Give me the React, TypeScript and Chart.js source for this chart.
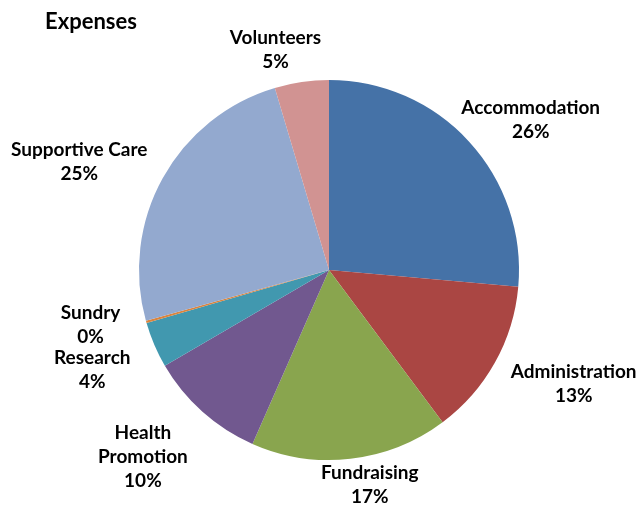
import React, { useEffect, useRef } from "react";
import { Chart, registerables } from "chart.js";

Chart.register(...registerables);

const chartTitle = "Expenses";
const categories = [
  "Accommodation",
  "Administration",
  "Fundraising",
  "Health Promotion",
  "Research",
  "Sundry",
  "Supportive Care",
  "Volunteers",
];
const values = [26.4, 13.4, 16.8, 10.0, 3.9, 0.2, 24.7, 4.6];
const colors = [
  "#4572A7",
  "#AA4643",
  "#89A54E",
  "#71588F",
  "#4198AF",
  "#DB843D",
  "#93A9CF",
  "#D19392",
];
const wrappedNames: Record<string, string[]> = {
  "Health Promotion": ["Health", "Promotion"],
};
// label fine-tuning (dx, dy) in px, applied after the automatic outside placement
const labelNudges: [number, number][] = [
  [-8, 11],
  [2, -3],
  [11, -23],
  [-13, 0],
  [-4, 6],
  [-3, -10],
  [-2, 8],
  [-16, 16],
];

const FONT = "Lato, 'Open Sans', sans-serif";
const LABEL_FONT = `bold 19px ${FONT}`;
const LINE_H = 24;

const outsideLabels = {
  id: "outsideLabels",
  afterDraw(chart: any) {
    const ctx = chart.ctx;
    const meta = chart.getDatasetMeta(0);
    const total = values.reduce((a, b) => a + b, 0);
    ctx.save();
    ctx.fillStyle = "#000";
    ctx.textBaseline = "middle";
    // title
    ctx.font = `bold 22px ${FONT}`;
    ctx.textAlign = "left";
    ctx.fillText(chartTitle, 45, 22);
    ctx.textAlign = "center";
    ctx.font = LABEL_FONT;
    meta.data.forEach((arc: any, i: number) => {
      const { x, y, startAngle, endAngle, outerRadius } = arc.getProps(
        ["x", "y", "startAngle", "endAngle", "outerRadius"],
        true
      );
      const mid = (startAngle + endAngle) / 2;
      const ux = Math.cos(mid);
      const uy = Math.sin(mid);
      const name = categories[i];
      const lines = [
        ...(wrappedNames[name] || [name]),
        `${Math.round((values[i] / total) * 100)}%`,
      ];
      const w = Math.max(...lines.map((l) => ctx.measureText(l).width));
      const h = lines.length * LINE_H;
      const d = outerRadius + 25;
      const cx = x + d * ux + (w / 2) * ux + labelNudges[i][0];
      const cy = y + d * uy + (h / 2) * uy + labelNudges[i][1];
      lines.forEach((l, k) => {
        ctx.fillText(l, cx, cy - h / 2 + LINE_H / 2 + k * LINE_H);
      });
    });
    ctx.restore();
  },
};

export default function App() {
  const ref = useRef<HTMLCanvasElement>(null);
  useEffect(() => {
    document.body.style.margin = "0";
    if (!ref.current) return;
    const chart = new Chart(ref.current, {
      type: "pie",
      data: {
        labels: categories,
        datasets: [
          {
            data: values,
            backgroundColor: colors,
            borderWidth: 0,
          },
        ],
      },
      options: {
        animation: false,
        responsive: false,
        layout: { padding: { left: 139, right: 117, top: 80, bottom: 46 } },
        plugins: {
          legend: { display: false },
          title: { display: false },
          tooltip: { enabled: false },
        },
      },
      plugins: [outsideLabels],
    });
    return () => chart.destroy();
  }, []);
  return (
    <div style={{ width: 636, height: 506, overflow: "hidden" }}>
      <canvas ref={ref} width={636} height={506} style={{ display: "block" }} />
    </div>
  );
}
